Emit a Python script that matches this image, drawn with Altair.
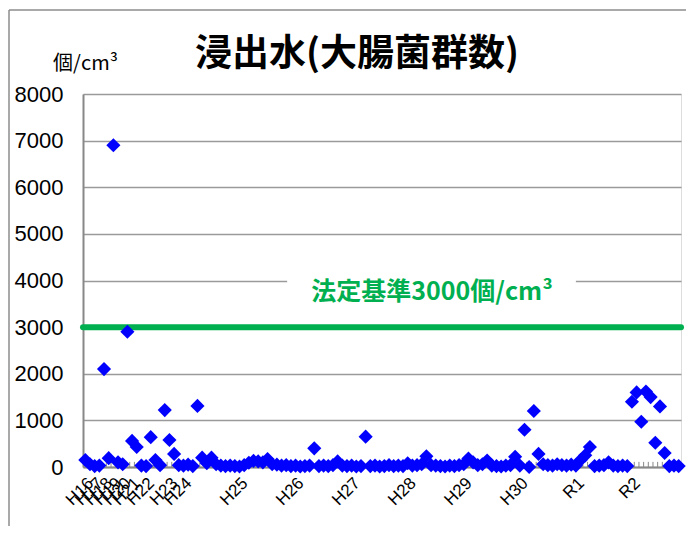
import altair as alt
import pandas as pd

# ---- data ----
values = [
    150, 60, 20, 30, 2100, 190, 6900, 100, 60, 2900,
    560, 430, 30, 20, 640, 150, 40, 1220, 580, 280,
    40, 30, 50, 20, 1310, 200, 80, 200, 60, 30,
    20, 30, 20, 10, 40, 90, 130, 120, 100, 170,
    60, 50, 30, 40, 20, 30, 10, 20, 30, 400,
    20, 30, 20, 40, 120, 30, 20, 30, 10, 20,
    650, 20, 30, 10, 20, 40, 20, 30, 20, 80,
    30, 40, 60, 230, 40, 30, 20, 10, 30, 20,
    40, 60, 180, 100, 40, 60, 140, 30, 20, 10,
    30, 40, 220, 30, 800, 0, 1200, 280, 60, 40,
    30, 60, 40, 30, 50, 30, 150, 250, 430, 20,
    30, 40, 100, 30, 20, 30, 20, 1400, 1600, 970,
    1620, 1500, 520, 1300, 300, 20, 30, 20,
]
year_labels = ["H16", "H17", "H18", "H19", "H20", "H21", "H22", "H23", "H24",
               "H25", "H26", "H27", "H28", "H29", "H30", "R1", "R2"]
year_starts = [0, 2, 4, 6, 8, 10, 13, 18, 21, 33, 45, 57, 69, 81, 93, 105, 117]
y_ticks = [0, 1000, 2000, 3000, 4000, 5000, 6000, 7000, 8000]
standard_value = [3000]
standard_text = ["法定基準3000個/cm³"]
title_text = "浸出水(大腸菌群数)"

n = len(values)
df = pd.DataFrame({"i": list(range(n)), "v": values})
bounds = pd.DataFrame({"i": [k - 0.5 for k in range(1, n)]})
bounds["v"] = 0
bounds["v2"] = 110
years = pd.DataFrame({"i": year_starts, "lab": year_labels})

JP = "Noto Sans CJK JP"
NUM = "Liberation Sans"

xscale = alt.Scale(domain=[-0.5, n - 0.5], nice=False, zero=False)
yscale = alt.Scale(domain=[0, 8000], nice=False)

xaxis = alt.Axis(values=year_starts, labels=False,
                 grid=False, ticks=False, domainColor="#888888", domainWidth=2,
                 title=None)
yaxis = alt.Axis(values=y_ticks, format="d", grid=True, gridColor="#9a9a9a", gridWidth=1.5,
                 ticks=False, domainColor="#888888", domainWidth=2,
                 labelFont=NUM, labelFontSize=22, labelColor="black", labelPadding=20,
                 labelOverlap=False, labelFlush=False,
                 title="個/cm³", titleAngle=0, titleX=2, titleY=-31,
                 titleAlign="center", titleBaseline="middle", titleFont=JP,
                 titleFontSize=20, titleFontWeight="normal", titleColor="black")

X = alt.X("i:Q", scale=xscale, axis=xaxis)
Y = alt.Y("v:Q", scale=yscale, axis=yaxis)

ticks = alt.Chart(bounds).mark_rule(color="#888888", strokeWidth=1).encode(
    x=X, y=Y, y2="v2:Q")

bg = alt.Chart(pd.DataFrame({"i": [43.2], "i2": [105.0], "v": [3450], "v2": [4350]})).mark_rect(
    color="white").encode(x=X, x2="i2:Q", y=Y, y2="v2:Q")

green = alt.Chart(pd.DataFrame({"v": standard_value})).mark_rule(
    color="#00B050", strokeWidth=6, strokeCap="round").encode(y=Y)

label = alt.Chart(pd.DataFrame({"i": [74.2], "v": [3750], "t": standard_text})).mark_text(
    font=JP, fontWeight="bold", fontSize=25, color="#00B050",
    align="center", baseline="middle").encode(x=X, y=Y, text="t:N")

pts = alt.Chart(df).mark_point(shape="diamond", filled=True, size=200,
                               color="#0000FF", opacity=1).encode(x=X, y=Y)

xlabels = alt.Chart(years).mark_text(
    font=NUM, fontSize=17, color="black", angle=315,
    align="right", baseline="top").encode(
    x=X, y=alt.value(381), text="lab:N")

title = alt.Chart(pd.DataFrame({"t": [title_text]})).mark_text(
    font=JP, fontWeight="bold", fontSize=37, color="black",
    align="center", baseline="middle").encode(
    x=alt.value(274), y=alt.value(-39), text="t:N")

frame_v = alt.Chart(pd.DataFrame({"a": [0]})).mark_rule(color="#8c8c8c", strokeWidth=1.5).encode(
    x=alt.value(-74), y=alt.value(-84), y2=alt.value(460))
frame_h = alt.Chart(pd.DataFrame({"a": [0]})).mark_rule(color="#8c8c8c", strokeWidth=1.5).encode(
    x=alt.value(-74), x2=alt.value(620), y=alt.value(-84))

chart = alt.layer(ticks, bg, green, label, pts, xlabels, title, frame_v, frame_h).properties(
    width=598, height=373,
    autosize=alt.AutoSizeParams(type="none"),
    padding={"left": 75, "top": 86, "right": 5, "bottom": 59},
).configure_view(stroke="#888888", strokeWidth=2).configure(background="white")

chart.save("out.html", embed_options={"renderer": "svg", "actions": False})
